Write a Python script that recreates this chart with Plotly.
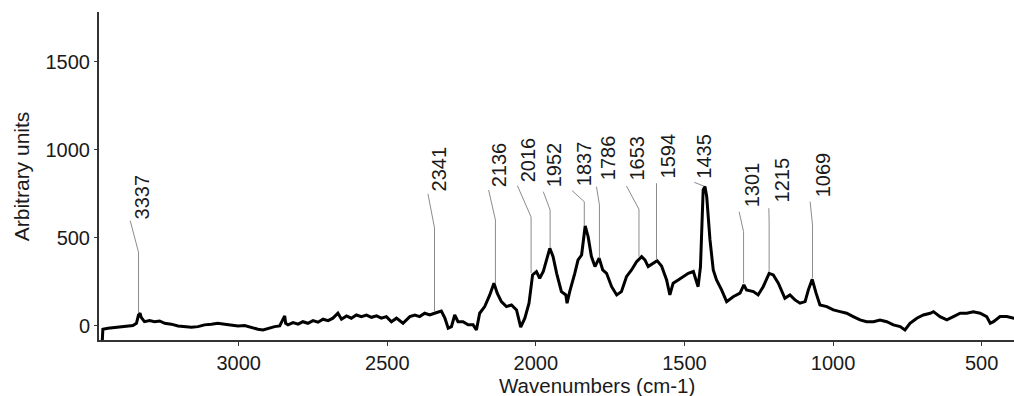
import plotly.graph_objects as go

# ---------------- data ----------------
wavenumber = [3460, 3457, 3440, 3418, 3395, 3373, 3356, 3344, 3337, 3332, 3328, 3317, 3300, 3283, 3266, 3249,
              3227, 3204, 3182, 3159, 3137, 3115, 3092, 3070, 3047, 3025, 3002, 2980, 2957, 2935, 2918, 2901,
              2879, 2862, 2845, 2842, 2834, 2817, 2800, 2784, 2767, 2750, 2733, 2716, 2699, 2683, 2666, 2654,
              2637, 2621, 2604, 2587, 2570, 2553, 2536, 2520, 2503, 2486, 2469, 2447, 2424, 2407, 2391, 2374,
              2357, 2341, 2318, 2306, 2295, 2284, 2273, 2262, 2245, 2228, 2211, 2200, 2189, 2172, 2155, 2141,
              2130, 2116, 2099, 2082, 2065, 2051, 2037, 2023, 2011, 1998, 1987, 1975, 1964, 1953, 1942, 1930,
              1914, 1899, 1895, 1886, 1869, 1858, 1846, 1834, 1824, 1813, 1801, 1787, 1775, 1762, 1745, 1728,
              1712, 1695, 1678, 1661, 1644, 1633, 1622, 1605, 1592, 1577, 1560, 1549, 1538, 1521, 1504, 1487,
              1470, 1454, 1446, 1437, 1431, 1425, 1414, 1403, 1392, 1375, 1358, 1336, 1313, 1300, 1291, 1268,
              1252, 1235, 1215, 1201, 1184, 1162, 1145, 1128, 1111, 1094, 1083, 1070, 1057, 1044, 1021, 999,
              976, 954, 932, 909, 887, 864, 842, 819, 797, 774, 758, 741, 718, 696, 673, 662,
              640, 617, 595, 572, 550, 528, 505, 483, 471, 460, 438, 415, 391, 380]
intensity = [-120, -19, -13, -10, -4, -4, 2, 15, 62, 72, 49, 24, 30, 24, 28, 15,
             10, 0, -4, -7, -4, 6, 10, 15, 10, 6, 0, 2, -10, -19, -23, -13,
             -4, 0, 57, 15, 6, 19, 10, 24, 15, 30, 21, 38, 30, 44, 72, 38,
             57, 44, 62, 53, 62, 49, 57, 44, 53, 24, 44, 15, 53, 62, 53, 72,
             62, 72, 85, 44, -13, -4, 62, 24, 24, 6, 6, -23, 72, 110, 176, 243,
             186, 138, 110, 119, 91, -7, 44, 129, 290, 309, 271, 309, 375, 441, 394, 299,
             195, 176, 129, 195, 299, 375, 403, 568, 507, 394, 337, 385, 318, 299, 223, 176,
             195, 280, 318, 365, 394, 375, 337, 356, 371, 341, 261, 176, 243, 261, 280, 299,
             309, 223, 337, 773, 792, 735, 489, 318, 261, 205, 138, 166, 186, 233, 205, 195,
             176, 223, 299, 290, 243, 157, 176, 148, 129, 138, 205, 265, 186, 119, 110, 91,
             81, 72, 53, 34, 24, 24, 34, 24, 6, -4, -23, 15, 44, 62, 72, 81,
             53, 34, 53, 72, 72, 81, 72, 53, 15, 24, 53, 53, 44, 40]

peak_labels = ["3337", "2341", "2136", "2016", "1952", "1837", "1786",
               "1653", "1594", "1435", "1301", "1215", "1069"]
peak_x = [3337, 2341, 2136, 2016, 1952, 1837, 1786, 1653, 1594, 1435, 1301, 1215, 1069]
peak_y = [72, 81, 243, 301, 443, 568, 385, 394, 375, 795, 243, 309, 271]

# leader-line / label placement (styling, in axis units)
elbow_y = [419, 557, 602, 619, 659, 706, 687, 663, 811, 795, 536, 585, 574]
end_x = [3365, 2363, 2159, 2062, 1975, 1878, 1796, 1695, 1594, 1467, 1316, 1216, 1077]
end_y = [598, 750, 773, 797, 763, 769, 791, 795, 811, 816, 649, 669, 706]
text_x = [3322, 2326, 2121, 2027, 1936, 1838, 1757, 1658, 1555, 1433, 1274, 1173, 1035]
text_y = [602, 761, 784, 812, 784, 791, 820, 820, 830, 830, 669, 697, 726]

x_ticks = [3000, 2500, 2000, 1500, 1000, 500]
y_ticks = [0, 500, 1000, 1500]

FONT = "Liberation Sans, Arial, sans-serif"
TXT = "#1a1a1a"

fig = go.Figure()
fig.add_trace(go.Scatter(x=wavenumber, y=intensity, mode="lines",
                         line=dict(color="black", width=3), hoverinfo="skip",
                         showlegend=False))

shapes = []
annotations = []
for i, lab in enumerate(peak_labels):
    path = (f"M {peak_x[i]},{peak_y[i]} L {peak_x[i]},{elbow_y[i]} "
            f"L {end_x[i]},{end_y[i]}")
    shapes.append(dict(type="path", xref="x", yref="y", path=path,
                       line=dict(color="#8c8c8c", width=1)))
    annotations.append(dict(x=text_x[i], y=text_y[i], xref="x", yref="y",
                            text=lab, showarrow=False, textangle=-90,
                            xanchor="center", yanchor="bottom", borderpad=0,
                            font=dict(family=FONT, size=20, color=TXT)))

annotations.append(dict(x=0.544, y=-0.14, xref="paper", yref="paper",
                        text="Wavenumbers (cm-1)", showarrow=False,
                        xanchor="center", yanchor="middle",
                        font=dict(family=FONT, size=20.5, color=TXT)))
annotations.append(dict(x=-0.085, y=0.5, xref="paper", yref="paper",
                        text="Arbitrary units", showarrow=False, textangle=-90,
                        xanchor="center", yanchor="middle",
                        font=dict(family=FONT, size=21, color=TXT)))

fig.update_layout(
    width=1014, height=396,
    margin=dict(l=99, r=0, t=12, b=56),
    paper_bgcolor="white", plot_bgcolor="white",
    shapes=shapes, annotations=annotations,
    font=dict(family=FONT, size=20, color=TXT),
)
fig.update_xaxes(range=[3470, 391], tickvals=x_ticks,
                 ticktext=[str(v) for v in x_ticks],
                 showgrid=False, zeroline=False, showline=True,
                 linecolor="#333333", linewidth=2, ticks="outside",
                 ticklen=4, tickwidth=1, tickcolor="#333333",
                 tickfont=dict(family=FONT, size=20, color=TXT))
fig.update_yaxes(range=[-80, 1784], tickvals=y_ticks,
                 ticktext=[str(v) for v in y_ticks],
                 showgrid=False, zeroline=False, showline=True,
                 linecolor="#333333", linewidth=2, ticks="outside",
                 ticklen=3, tickwidth=1, tickcolor="#333333",
                 tickfont=dict(family=FONT, size=20, color=TXT))

fig.write_html("out.html")
